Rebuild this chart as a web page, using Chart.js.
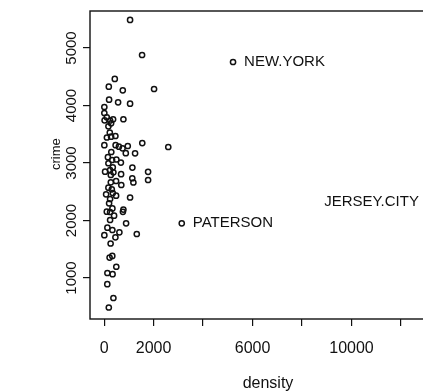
<!DOCTYPE html>
<html>
<head>
<meta charset="utf-8">
<script src="https://cdn.jsdelivr.net/npm/chart.js@4"></script>
<style>
  html, body { margin: 0; padding: 0; background: #fff; overflow: hidden; }
  #wrap { width: 456px; height: 392px; }
</style>
</head>
<body>
<div id="wrap"><canvas id="plot" width="456" height="392"></canvas></div>
<script>
// unlabelled cities
const density = [
  1050, 1535, 432, 190, 755, 2020, 202, 566, 1050, 10,
  10, 109, 20, 242, 364, 780, 283, 174, 230, 113,
  283, 457, 10, 465, 598, 747, 957, 1543, 2594, 291,
  877, 1252, 154, 323, 497, 679, 174, 1143, 351, 242,
  40, 376, 1778, 687, 271, 1139, 1184, 1778, 485, 271,
  695, 174, 311, 81, 351, 485, 242, 1050, 202, 335,
  780, 760, 109, 242, 404, 242, 889, 133, 335, 618,
  10, 457, 1321, 263, 331, 222, 493, 133, 343, 129,
  376, 190
];
const crime = [
  5487, 4878, 4461, 4327, 4264, 4287, 4101, 4055, 4031, 3974,
  3869, 3794, 3742, 3739, 3760, 3761, 3690, 3638, 3530, 3443,
  3457, 3469, 3309, 3309, 3283, 3255, 3295, 3346, 3278, 3191,
  3170, 3168, 3101, 3052, 3061, 3008, 2995, 2921, 2925, 2878,
  2849, 2838, 2847, 2805, 2791, 2735, 2661, 2704, 2687, 2664,
  2617, 2570, 2542, 2455, 2478, 2431, 2374, 2400, 2299, 2209,
  2189, 2150, 2153, 2148, 2083, 2009, 1951, 1875, 1835, 1795,
  1744, 1708, 1765, 1600, 1383, 1356, 1196, 1087, 1066, 892,
  652, 487
];

// identified cities
const labelNames = ['NEW.YORK', 'PATERSON', 'JERSEY.CITY'];
const labelDensity = [5212, 3139, 13170];
const labelCrime = [4756, 1951, 2322];

// axes
const xTickValues = [0, 2000, 4000, 6000, 8000, 10000, 12000];
const xTickLabels = ['0', '2000', '', '6000', '', '10000', ''];
const yTickValues = [1000, 2000, 3000, 4000, 5000];
const yTickLabels = ['1000', '2000', '3000', '4000', '5000'];

const ink = '#111';
const font = 'Liberation Sans, Arial, Helvetica, sans-serif';

const toPoints = (xs, ys) => xs.map((x, i) => ({ x: x, y: ys[i] }));

const pointStyle = {
  showLine: false,
  pointRadius: 2.6,
  pointHoverRadius: 2.6,
  borderWidth: 1.5,
  borderColor: ink,
  backgroundColor: 'rgba(0,0,0,0)'
};

// box around the plot region
const boxPlugin = {
  id: 'box',
  afterDraw(chart) {
    const { ctx, chartArea: a } = chart;
    ctx.save();
    ctx.strokeStyle = ink;
    ctx.lineWidth = 1.4;
    ctx.strokeRect(a.left, a.top, a.right - a.left, a.bottom - a.top);
    ctx.restore();
  }
};

// text next to the identified points
const namePlugin = {
  id: 'names',
  afterDatasetsDraw(chart) {
    const { ctx, chartArea: a } = chart;
    const sx = chart.scales.x, sy = chart.scales.y;
    ctx.save();
    ctx.fillStyle = ink;
    ctx.font = '15px ' + font;
    ctx.textBaseline = 'middle';
    labelNames.forEach((name, i) => {
      const px = sx.getPixelForValue(labelDensity[i]);
      const py = sy.getPixelForValue(labelCrime[i]);
      if (px > a.right - 120) {
        ctx.textAlign = 'right';
        ctx.fillText(name, px - 11, py);
      } else {
        ctx.textAlign = 'left';
        ctx.fillText(name, px + 11, py);
      }
    });
    ctx.restore();
  }
};

new Chart(document.getElementById('plot'), {
  type: 'scatter',
  data: {
    datasets: [
      Object.assign({ label: 'cities', data: toPoints(density, crime) }, pointStyle),
      Object.assign({ label: 'named', data: toPoints(labelDensity, labelCrime) }, pointStyle)
    ]
  },
  options: {
    responsive: false,
    animation: false,
    devicePixelRatio: 1,
    layout: { padding: { top: 11, right: 10, left: 0, bottom: 0 } },
    plugins: {
      legend: { display: false },
      tooltip: { enabled: false }
    },
    scales: {
      x: {
        type: 'linear',
        min: -570,
        max: 13820,
        afterBuildTicks: s => { s.ticks = xTickValues.map(v => ({ value: v })); },
        afterFit: s => { s.height = 73; },
        border: { display: false },
        grid: { drawOnChartArea: false, color: ink, lineWidth: 1.2, tickLength: 7 },
        ticks: {
          autoSkip: false,
          maxRotation: 0,
          padding: 13,
          color: ink,
          font: { family: font, size: 16 },
          callback: (v, i) => xTickLabels[i]
        },
        title: {
          display: true,
          text: 'density',
          color: ink,
          padding: 0,
          font: { family: font, size: 16, lineHeight: 1 }
        }
      },
      y: {
        type: 'linear',
        min: 287,
        max: 5643,
        afterBuildTicks: s => { s.ticks = yTickValues.map(v => ({ value: v })); },
        afterFit: s => { s.width = 90; },
        border: { display: false },
        grid: { drawOnChartArea: false, color: ink, lineWidth: 1.2, tickLength: 7 },
        ticks: {
          minRotation: 90,
          maxRotation: 90,
          crossAlign: 'center',
          padding: -6,
          color: ink,
          font: { family: font, size: 15 },
          callback: (v, i) => yTickLabels[i]
        },
        title: {
          display: true,
          text: '\u00a0\u00a0\u00a0\u00a0\u00a0\u00a0crime',
          color: ink,
          padding: { top: 50, bottom: 0 },
          font: { family: font, size: 13, lineHeight: 1 }
        }
      }
    }
  },
  plugins: [boxPlugin, namePlugin]
});
</script>
</body>
</html>
